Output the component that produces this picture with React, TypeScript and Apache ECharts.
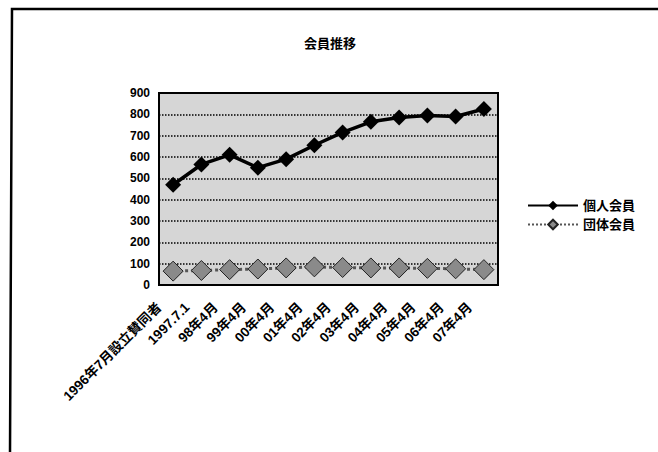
import React, { useEffect, useRef } from "react";
import * as echarts from "echarts";

const categories = [
  "1996年7月設立賛同者",
  "1997.7.1",
  "98年4月",
  "99年4月",
  "00年4月",
  "01年4月",
  "02年4月",
  "03年4月",
  "04年4月",
  "05年4月",
  "06年4月",
  "07年4月",
];
const individualMembers = [470, 565, 610, 550, 590, 655, 715, 765, 785, 795, 790, 825];
const groupMembers = [65, 68, 72, 75, 80, 85, 82, 80, 80, 78, 76, 72];
const yTicks = { min: 0, max: 900, interval: 100 };

const FONT = "'Liberation Sans', 'Noto Sans CJK JP', sans-serif";

export default function App() {
  const ref = useRef<HTMLDivElement>(null);
  useEffect(() => {
    document.body.style.margin = "0";
    const chart = echarts.init(ref.current!, undefined, { renderer: "svg" });
    chart.setOption({
      animation: false,
      backgroundColor: "#ffffff",
      title: {
        text: "会員推移",
        left: 325,
        top: 32,
        textAlign: "center",
        textStyle: { fontFamily: FONT, fontSize: 13, fontWeight: "bold", color: "#000" },
      },
      legend: {
        orient: "vertical",
        left: 522,
        top: 194,
        itemWidth: 50,
        itemHeight: 12,
        itemGap: 6,
        textStyle: { fontFamily: FONT, fontSize: 13, fontWeight: "bold", color: "#000" },
        data: ["個人会員", "団体会員"],
      },
      grid: {
        left: 159,
        right: 160,
        top: 93,
        bottom: 167,
        show: true,
        backgroundColor: "#d6d6d6",
        borderColor: "#000",
        borderWidth: 2,
      },
      graphic: [
        {
          type: "polyline",
          shape: { points: [[658, 9], [12, 9], [10, 452]] },
          style: { stroke: "#000", lineWidth: 2.5, fill: "none" },
          silent: true,
        },
      ],
      xAxis: {
        type: "category",
        data: categories,
        boundaryGap: true,
        axisLine: { show: true, lineStyle: { color: "#000", width: 2, type: "dotted" } },
        axisTick: { show: false },
        axisLabel: {
          interval: 0,
          rotate: 45,
          margin: 6,
          padding: [0, 20, 0, 0],
          fontFamily: FONT,
          fontSize: 13.5,
          fontWeight: "bold",
          color: "#000",
        },
      },
      yAxis: {
        type: "value",
        min: yTicks.min,
        max: yTicks.max,
        interval: yTicks.interval,
        axisLine: { show: true, lineStyle: { color: "#000", width: 2, type: "dotted" } },
        axisTick: { show: false },
        splitLine: { show: true, lineStyle: { color: "#000", width: 1.5, type: "dotted" } },
        axisLabel: {
          margin: 9,
          fontFamily: FONT,
          fontSize: 12,
          fontWeight: "bold",
          color: "#000",
        },
      },
      series: [
        {
          name: "個人会員",
          type: "line",
          data: individualMembers,
          symbol: "diamond",
          symbolSize: 16,
          lineStyle: { color: "#000", width: 3.5 },
          itemStyle: { color: "#000" },
          z: 3,
        },
        {
          name: "団体会員",
          type: "line",
          data: groupMembers,
          symbol: "diamond",
          symbolSize: 20,
          lineStyle: { color: "#555", width: 3, type: "dotted" },
          itemStyle: { color: "#8a8a8a", borderColor: "#222", borderWidth: 1 },
          z: 2,
        },
      ],
    });
    return () => chart.dispose();
  }, []);
  return <div ref={ref} style={{ width: 658, height: 452 }} />;
}
